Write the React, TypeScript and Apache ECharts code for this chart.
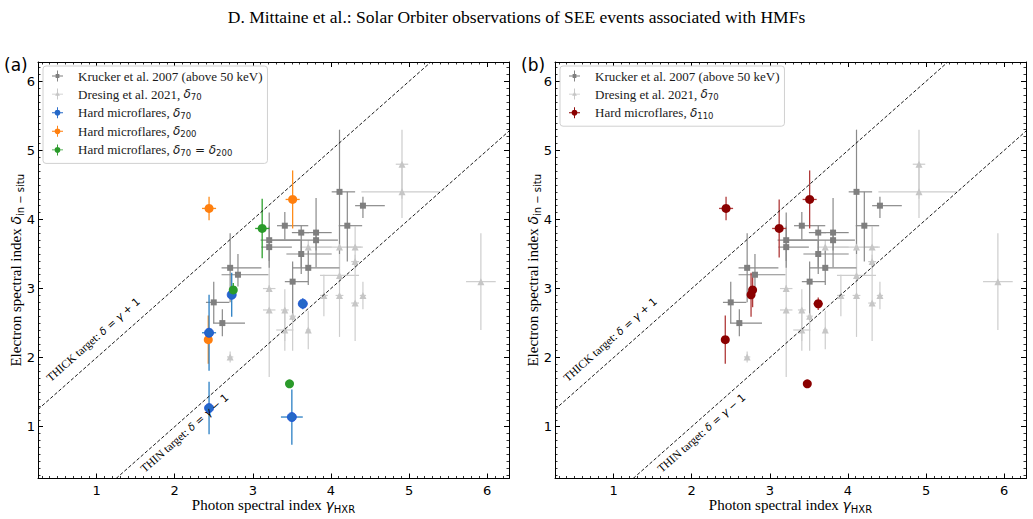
import React, { useEffect, useRef } from "react";
import * as echarts from "echarts";

// Axis extents (photon index gamma on x, electron index delta on y)
const GAMMA_RANGE = [0.25, 6.28];
const DELTA_RANGE = [0.25, 6.28];
const MAJOR_TICKS = [1, 2, 3, 4, 5, 6];
const MINOR_TICKS: number[] = [];
for (let k = 3; k <= 62; k++) if (k % 10 !== 0) MINOR_TICKS.push(k / 10);

// Rows: [gamma, delta, gammaErrMinus, gammaErrPlus, deltaErrMinus, deltaErrPlus]
const kruckerRows = [
  [2.5, 2.8, 0.1, 0.2, 0.3, 0.3],
  [2.61, 2.5, 0.12, 0.29, 0.19, 0.2],
  [2.71, 3.3, 0.11, 0.4, 0.5, 0.5],
  [2.81, 3.2, 0.21, 0.39, 0.17, 0.3],
  [3.21, 3.7, 0.11, 0.4, 0.3, 0.4],
  [3.21, 3.6, 0.1, 0.29, 0.3, 0.3],
  [3.41, 3.91, 0.1, 0.3, 0.2, 0.2],
  [3.62, 3.81, 0.12, 0.1, 0.6, 0.1],
  [3.81, 3.81, 0.2, 0.2, 0.5, 0.5],
  [3.81, 3.7, 0.59, 0.28, 0.15, 0.15],
  [3.62, 3.5, 0.19, 0.39, 0.2, 0.2],
  [3.71, 3.3, 0.2, 0.4, 0.25, 0.25],
  [3.51, 3.1, 0.1, 0.2, 0.55, 0.29],
  [4.11, 4.4, 0.1, 0.2, 0.9, 0.9],
  [4.41, 4.2, 0.1, 0.28, 0.18, 0.13],
  [4.21, 3.91, 0.11, 0.19, 0.52, 0.49],
];

const dresingRows = [
  [2.71, 2.01, 0.04, 0.04, 0.08, 0.08],
  [3.21, 3.0, 0.08, 0.08, 0.05, 0.05],
  [3.21, 2.69, 0.08, 0.08, 0.97, 0.97],
  [3.41, 2.69, 0.05, 0.05, 0.45, 0.3],
  [3.51, 2.6, 0.04, 0.04, 0.5, 0.5],
  [3.41, 2.4, 0.11, 0.11, 0.3, 0.3],
  [3.71, 2.4, 0.03, 0.03, 0.28, 0.28],
  [3.91, 2.9, 0.05, 0.05, 0.3, 0.3],
  [4.11, 2.9, 0.05, 0.05, 0.6, 0.6],
  [4.31, 2.79, 0.05, 0.05, 0.55, 0.55],
  [4.41, 2.9, 0.04, 0.04, 0.2, 0.2],
  [3.71, 3.6, 0.1, 0.3, 0.1, 0.1],
  [4.11, 3.6, 0.28, 0.28, 0.3, 0.3],
  [4.31, 3.6, 0.1, 0.1, 0.3, 0.3],
  [4.31, 3.39, 0.05, 0.05, 0.1, 0.1],
  [4.11, 3.19, 0.25, 0.25, 0.1, 0.1],
  [4.91, 4.4, 0.52, 0.49, 0.38, 0.38],
  [4.91, 4.8, 0.08, 0.08, 0.5, 0.5],
  [5.92, 3.1, 0.19, 0.19, 0.7, 0.7],
];

const delta70Rows = [
  [2.44, 2.36, 0.09, 0.09, 0.55, 0.55],
  [2.73, 2.91, 0.03, 0.03, 0.32, 0.32],
  [3.64, 2.78, 0.06, 0.06, 0.08, 0.08],
  [2.44, 1.27, 0.05, 0.05, 0.38, 0.38],
  [3.5, 1.14, 0.14, 0.14, 0.4, 0.4],
];

const delta200Rows = [
  [2.44, 4.16, 0.09, 0.09, 0.17, 0.17],
  [3.51, 4.29, 0.09, 0.09, 0.42, 0.42],
  [2.43, 2.26, 0.0, 0.0, 0.35, 0.35],
];

const delta70eq200Rows = [
  [3.12, 3.87, 0.09, 0.09, 0.43, 0.43],
  [2.75, 2.98, 0.02, 0.02, 0.1, 0.1],
  [3.47, 1.62, 0.0, 0.0, 0.0, 0.0],
];

const delta110Rows = [
  [2.44, 4.16, 0.09, 0.09, 0.17, 0.17],
  [3.12, 3.87, 0.09, 0.09, 0.42, 0.42],
  [3.51, 4.29, 0.09, 0.09, 0.42, 0.42],
  [2.76, 2.91, 0.03, 0.03, 0.32, 0.32],
  [2.78, 2.98, 0.02, 0.02, 0.25, 0.25],
  [2.43, 2.26, 0.0, 0.0, 0.35, 0.35],
  [3.62, 2.78, 0.06, 0.06, 0.09, 0.09],
  [3.48, 1.62, 0.03, 0.03, 0.03, 0.03],
];

// Reference relations delta = gamma + offset
const THICK_OFFSET = 1;
const THIN_OFFSET = -1;

const SERIF = "'Liberation Serif', 'DejaVu Serif', serif";
const SANS = "'DejaVu Sans', sans-serif";

const ICON_SQUARE = "path://M0 6.4H14V7.6H0ZM6.4 0H7.6V14H6.4ZM4.6 4.6H9.4V9.4H4.6Z";
const ICON_TRIANGLE = "path://M0 6.4H14V7.6H0ZM6.4 0H7.6V14H6.4ZM7 3.6L10 9.2H4Z";
const ICON_CIRCLE =
  "path://M0 6.4H14V7.6H0ZM6.4 0H7.6V14H6.4ZM10.6 7A3.6 3.6 0 1 1 3.4 7A3.6 3.6 0 1 1 10.6 7Z";

const LEGEND_TEXT: Record<string, string> = {
  krucker: "{t|Krucker et al. 2007 (above 50 keV)}",
  dresing: "{t|Dresing et al. 2021, }{m|δ}{s|70}",
  mf70: "{t|Hard microflares, }{m|δ}{s|70}",
  mf200: "{t|Hard microflares, }{m|δ}{s|200}",
  mfboth: "{t|Hard microflares, }{m|δ}{s|70}{r| = }{m|δ}{s|200}",
  mf110: "{t|Hard microflares, }{m|δ}{s|110}",
};

const legendRich = {
  t: { fontFamily: SERIF, fontSize: 13, color: "#1a1a1a", lineHeight: 14 },
  m: { fontFamily: SANS, fontStyle: "italic", fontSize: 12, color: "#1a1a1a", lineHeight: 14 },
  r: { fontFamily: SANS, fontSize: 12, color: "#1a1a1a", lineHeight: 14 },
  s: { fontFamily: SANS, fontSize: 8.5, color: "#1a1a1a", lineHeight: 14, padding: [6, 0, 0, 0] },
};

const nameRich = {
  t: { fontFamily: SERIF, fontSize: 15, color: "#000", lineHeight: 18 },
  m: { fontFamily: SANS, fontStyle: "italic", fontSize: 14, color: "#000", lineHeight: 18 },
  s: { fontFamily: SANS, fontSize: 10, color: "#000", lineHeight: 18, padding: [9, 0, 0, 0] },
};

const lineLabelRich = {
  t: { fontFamily: SERIF, fontSize: 11.5, color: "#444", lineHeight: 14 },
  m: { fontFamily: SANS, fontStyle: "italic", fontSize: 10.5, color: "#444", lineHeight: 14 },
  r: { fontFamily: SANS, fontSize: 10.5, color: "#444", lineHeight: 14 },
};

const GRIDS = [
  { left: 38, top: 62, width: 471, height: 419 },
  { left: 555, top: 62, width: 471, height: 419 },
];

function axisSet(gi: number, dir: "x" | "y") {
  const range = dir === "x" ? GAMMA_RANGE : DELTA_RANGE;
  const base = {
    gridIndex: gi,
    type: "value",
    min: range[0],
    max: range[1],
    splitLine: { show: false },
    silent: true,
  };
  const line = { show: true, onZero: false, lineStyle: { color: "#000", width: 1 } };
  const noLine = { show: false, onZero: false };
  const major = { inside: true, length: 5, customValues: MAJOR_TICKS, lineStyle: { color: "#000", width: 1 } };
  const minor = { inside: true, length: 2.5, customValues: MINOR_TICKS, lineStyle: { color: "#000", width: 0.8 } };
  const first = dir === "x" ? "bottom" : "left";
  const second = dir === "x" ? "top" : "right";
  const name =
    dir === "x"
      ? "{t|Photon spectral index }{m|γ}{s|HXR}"
      : "{t|Electron spectral index }{m|δ}{s|in − situ}";
  return [
    {
      ...base,
      position: first,
      axisLine: line,
      axisTick: major,
      axisLabel: {
        customValues: MAJOR_TICKS,
        fontFamily: SANS,
        fontSize: 13,
        color: "#000",
        margin: dir === "x" ? 5 : 3,
      },
      name,
      nameLocation: "middle",
      nameGap: dir === "x" ? 17 : 13,
      nameMoveOverlap: false,
      nameTextStyle: { rich: nameRich },
    },
    { ...base, position: first, axisLine: noLine, axisTick: minor, axisLabel: { show: false } },
    { ...base, position: second, axisLine: line, axisTick: major, axisLabel: { show: false } },
    { ...base, position: second, axisLine: noLine, axisTick: minor, axisLabel: { show: false } },
  ];
}

function errorBars(rows: number[][], color: string, gi: number, width = 1.2) {
  return {
    type: "custom",
    xAxisIndex: gi * 4,
    yAxisIndex: gi * 4,
    silent: true,
    data: rows.map((r) => [r[0], r[1], r[0] - r[2], r[0] + r[3], r[1] - r[4], r[1] + r[5]]),
    encode: { x: 0, y: 1 },
    renderItem: (_p: any, api: any) => {
      const gx = api.value(0);
      const dy = api.value(1);
      const h0 = api.coord([api.value(2), dy]);
      const h1 = api.coord([api.value(3), dy]);
      const v0 = api.coord([gx, api.value(4)]);
      const v1 = api.coord([gx, api.value(5)]);
      const style = { stroke: color, lineWidth: width, fill: null };
      return {
        type: "group",
        children: [
          { type: "line", shape: { x1: h0[0], y1: h0[1], x2: h1[0], y2: h1[1] }, style },
          { type: "line", shape: { x1: v0[0], y1: v0[1], x2: v1[0], y2: v1[1] }, style },
        ],
      };
    },
  };
}

function markers(
  name: string,
  rows: number[][],
  gi: number,
  symbol: string,
  size: number,
  color: string,
  border?: string
) {
  return {
    type: "scatter",
    name,
    xAxisIndex: gi * 4,
    yAxisIndex: gi * 4,
    silent: true,
    symbol,
    symbolSize: size,
    itemStyle: border
      ? { color, borderColor: border, borderWidth: 0.8, opacity: 1 }
      : { color, opacity: 1 },
    data: rows.map((r) => [r[0], r[1]]),
  };
}

function relationLine(gi: number, offset: number) {
  const lo = Math.max(GAMMA_RANGE[0], DELTA_RANGE[0] - offset);
  const hi = Math.min(GAMMA_RANGE[1], DELTA_RANGE[1] - offset);
  return {
    type: "line",
    xAxisIndex: gi * 4,
    yAxisIndex: gi * 4,
    silent: true,
    symbol: "none",
    lineStyle: { color: "#000", width: 0.9, type: [3.5, 2] },
    data: [
      [lo, lo + offset],
      [hi, hi + offset],
    ],
  };
}

function panelSeries(gi: number) {
  const s: any[] = [
    relationLine(gi, THICK_OFFSET),
    relationLine(gi, THIN_OFFSET),
    errorBars(dresingRows, "#cdcdcd", gi),
    markers("dresing", dresingRows, gi, "triangle", 7, "#c6c6c6"),
    errorBars(kruckerRows, "#8a8a8a", gi),
    markers("krucker", kruckerRows, gi, "rect", 6, "#7f7f7f"),
  ];
  if (gi === 0) {
    s.push(
      errorBars(delta200Rows, "#ff8c1a", gi, 1.3),
      markers("mf200", delta200Rows, gi, "circle", 9, "#ff7f0e"),
      errorBars(delta70Rows, "#2a7fc4", gi, 1.3),
      markers("mf70", delta70Rows, gi, "circle", 9, "#2468c8", "#1c4fd6"),
      errorBars(delta70eq200Rows, "#2ca02c", gi, 1.3),
      markers("mfboth", delta70eq200Rows, gi, "circle", 9, "#2a9a2a")
    );
  } else {
    s.push(
      errorBars(delta110Rows, "#b03a3a", gi, 1.3),
      markers("mf110", delta110Rows, gi, "circle", 9, "#8b0000")
    );
  }
  return s;
}

function legendFor(left: number, items: { name: string; icon: string }[]) {
  return {
    orient: "vertical",
    left,
    top: 66,
    data: items,
    selectedMode: false,
    itemWidth: 11,
    itemHeight: 11,
    itemGap: 3.6,
    padding: [3, 5, 6, 9],
    borderColor: "#d0d0d0",
    borderWidth: 1,
    borderRadius: 3,
    backgroundColor: "#ffffff",
    itemStyle: { borderWidth: 0 },
    formatter: (name: string) => LEGEND_TEXT[name],
    textStyle: { padding: [0, 0, 0, 10], rich: legendRich, lineHeight: 14 },
  };
}

function buildOption() {
  const xAxis = [...axisSet(0, "x"), ...axisSet(1, "x")];
  const yAxis = [...axisSet(0, "y"), ...axisSet(1, "y")];
  return {
    animation: false,
    backgroundColor: "#ffffff",
    title: {
      text: "D. Mittaine et al.: Solar Orbiter observations of SEE events associated with HMFs",
      left: "center",
      top: 3,
      textStyle: { fontFamily: SERIF, fontSize: 17.5, fontWeight: "normal", color: "#000" },
    },
    grid: GRIDS,
    xAxis,
    yAxis,
    legend: [
      legendFor(43, [
        { name: "krucker", icon: ICON_SQUARE },
        { name: "dresing", icon: ICON_TRIANGLE },
        { name: "mf70", icon: ICON_CIRCLE },
        { name: "mf200", icon: ICON_CIRCLE },
        { name: "mfboth", icon: ICON_CIRCLE },
      ]),
      legendFor(560, [
        { name: "krucker", icon: ICON_SQUARE },
        { name: "dresing", icon: ICON_TRIANGLE },
        { name: "mf110", icon: ICON_CIRCLE },
      ]),
    ],
    series: [...panelSeries(0), ...panelSeries(1)],
  };
}

// Text laid along a reference line, shifted along its normal (positive = above-left)
function lineLabel(chart: any, gi: number, text: string, anchorGamma: number, offset: number, shift: number) {
  const finder = { xAxisIndex: gi * 4, yAxisIndex: gi * 4 };
  const a = chart.convertToPixel(finder, [anchorGamma, anchorGamma + offset]);
  const b = chart.convertToPixel(finder, [anchorGamma + 1, anchorGamma + 1 + offset]);
  const dx = b[0] - a[0];
  const dy = b[1] - a[1];
  const len = Math.hypot(dx, dy);
  const ux = dx / len;
  const uy = dy / len;
  const nx = uy;
  const ny = -ux;
  return {
    type: "text",
    x: a[0] + nx * shift,
    y: a[1] + ny * shift,
    rotation: Math.atan2(-dy, dx),
    silent: true,
    z: 5,
    style: { text, align: "center", verticalAlign: "middle", rich: lineLabelRich },
  };
}

function buildGraphic(chart: any) {
  const thick = "{t|THICK target: }{m|δ}{r| = }{m|γ}{r| + 1}";
  const thin = "{t|THIN target: }{m|δ}{r| = }{m|γ}{r| − 1}";
  const g: any[] = [];
  [0, 1].forEach((gi) => {
    g.push(lineLabel(chart, gi, thick, 1.09, THICK_OFFSET, 16));
    g.push(lineLabel(chart, gi, thin, 2.03, THIN_OFFSET, -11));
  });
  g.push(
    { type: "text", left: 4, top: 56, silent: true, style: { text: "(a)", fontFamily: SANS, fontSize: 17, fill: "#000" } },
    { type: "text", left: 521, top: 56, silent: true, style: { text: "(b)", fontFamily: SANS, fontSize: 17, fill: "#000" } }
  );
  return g;
}

export default function App() {
  const ref = useRef<HTMLDivElement>(null);
  useEffect(() => {
    if (!ref.current) return;
    const chart = echarts.init(ref.current, null, { renderer: "svg" });
    chart.setOption(buildOption() as any);
    chart.setOption({ graphic: buildGraphic(chart) } as any);
    return () => chart.dispose();
  }, []);
  return (
    <div
      ref={ref}
      style={{ position: "absolute", left: 0, top: 0, width: 1033, height: 519, background: "#fff" }}
    />
  );
}
